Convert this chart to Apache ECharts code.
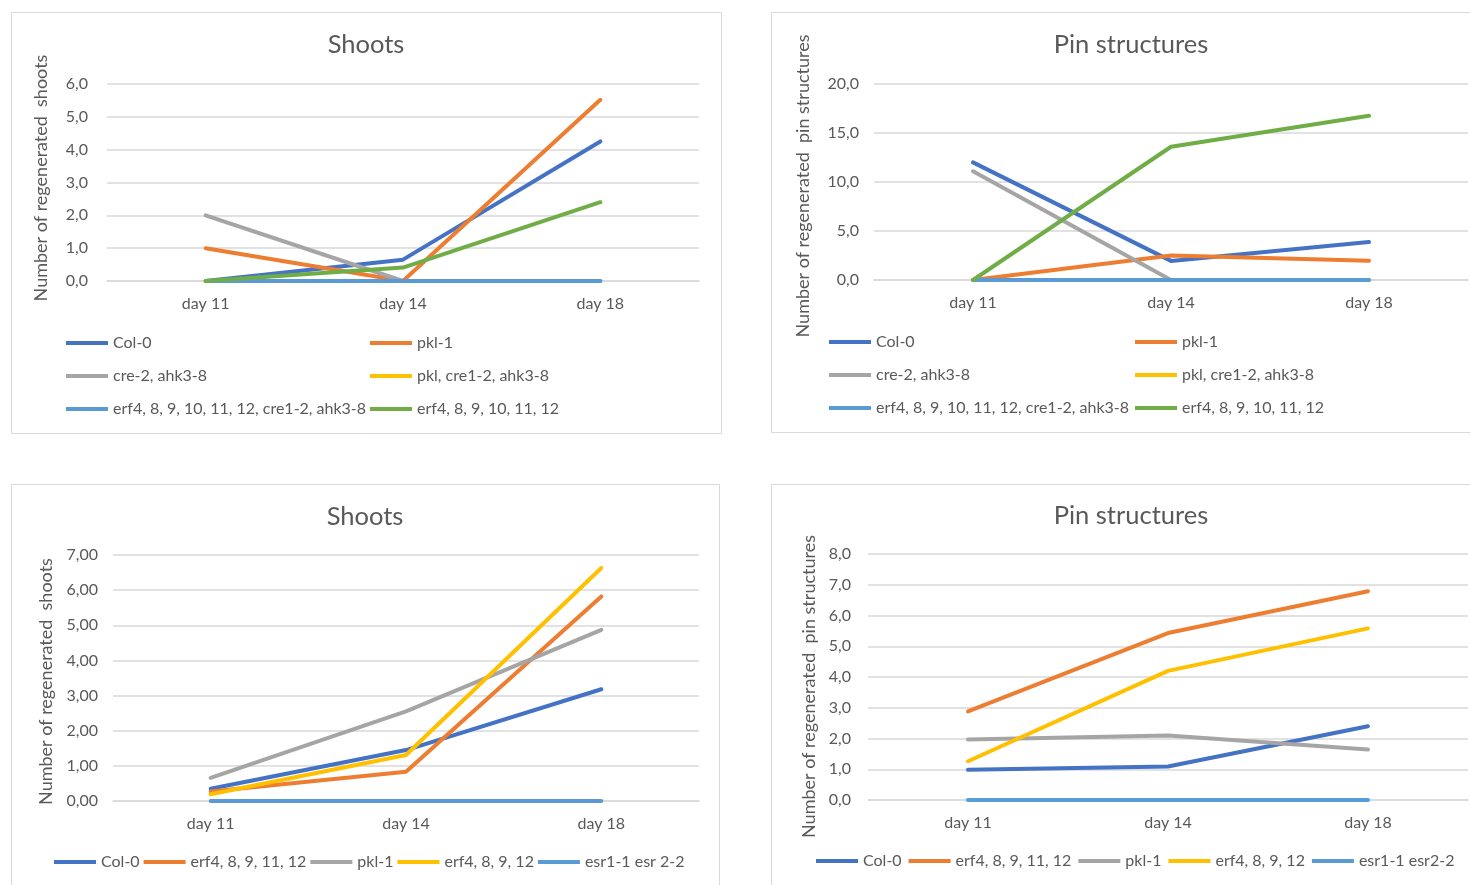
<!DOCTYPE html>
<html><head><meta charset="utf-8">
<script src="https://cdn.jsdelivr.net/npm/echarts@6/dist/echarts.min.js"></script>
<style>
html,body{margin:0;padding:0;background:#fff;width:1470px;height:885px;overflow:hidden;}
.p{position:absolute;}
</style></head>
<body>
<div id="c1" class="p" style="left:0;top:0;width:735px;height:460px"></div>
<div id="c2" class="p" style="left:735px;top:0;width:735px;height:460px"></div>
<div id="c3" class="p" style="left:0;top:460px;width:735px;height:425px"></div>
<div id="c4" class="p" style="left:735px;top:460px;width:735px;height:425px"></div>
<script>
// ---- data ----
const days = ['day 11', 'day 14', 'day 18'];

// top panels
const topNames = ['Col-0', 'pkl-1', 'cre-2, ahk3-8', 'pkl, cre1-2, ahk3-8',
  'erf4, 8, 9, 10, 11, 12, cre1-2, ahk3-8', 'erf4, 8, 9, 10, 11, 12'];
const shootsTop_col0 = [0, 0.65, 4.25];
const shootsTop_pkl1 = [1.0, 0, 5.52];
const shootsTop_cre2 = [2.0, 0, 0];
const shootsTop_pklCre = [0, 0, 0];
const shootsTop_erfCre = [0, 0, 0];
const shootsTop_erf = [0, 0.41, 2.4];

const pinsTop_col0 = [12.0, 1.95, 3.87];
const pinsTop_pkl1 = [0, 2.5, 1.97];
const pinsTop_cre2 = [11.1, 0, 0];
const pinsTop_pklCre = [0, 0, 0];
const pinsTop_erfCre = [0, 0, 0];
const pinsTop_erf = [0, 13.6, 16.75];

// bottom panels
const botNames = ['Col-0', 'erf4, 8, 9, 11, 12', 'pkl-1', 'erf4, 8, 9, 12', 'esr1-1 esr 2-2'];
const botNames2 = ['Col-0', 'erf4, 8, 9, 11, 12', 'pkl-1', 'erf4, 8, 9, 12', 'esr1-1 esr2-2'];
const shootsBot_col0 = [0.35, 1.45, 3.18];
const shootsBot_erf5 = [0.27, 0.83, 5.82];
const shootsBot_pkl1 = [0.66, 2.55, 4.87];
const shootsBot_erf4 = [0.19, 1.31, 6.63];
const shootsBot_esr = [0, 0, 0];

const pinsBot_col0 = [0.98, 1.09, 2.4];
const pinsBot_erf5 = [2.88, 5.43, 6.79];
const pinsBot_pkl1 = [1.97, 2.1, 1.64];
const pinsBot_erf4 = [1.26, 4.2, 5.58];
const pinsBot_esr = [0, 0, 0];

// ---- styles ----
const palTop = ['#4472C4', '#ED7D31', '#A5A5A5', '#FFC000', '#5B9BD5', '#70AD47'];
const palBot = ['#4472C4', '#ED7D31', '#A5A5A5', '#FFC000', '#5B9BD5'];
const FONT = 'Lato';
const TXT = '#595959';
const GRIDC = '#D9D9D9';

function build(id, o) {
  const ox = o.ox, oy = o.oy;
  const chart = echarts.init(document.getElementById(id), null, {renderer: 'canvas'});
  const fmt = v => v.toFixed(o.dec).replace('.', ',');
  const series = o.names.map((n, i) => ({
    name: n, type: 'line', data: o.data[i], symbol: 'none',
    lineStyle: {width: 4, color: o.pal[i], cap: 'round', join: 'round'},
    itemStyle: {color: o.pal[i]}, z: 2 + i, animation: false
  }));
  let legends;
  const lt = {color: TXT, fontFamily: FONT, fontSize: 16, lineHeight: 16};
  if (o.legendCols) {
    legends = o.legendCols.map(c => ({
      orient: 'vertical', left: c.x - ox, top: c.y - oy, padding: 0,
      data: c.items, icon: 'rect', itemWidth: 42, itemHeight: 4, itemGap: 17,
      textStyle: lt
    }));
  } else {
    legends = [{
      orient: 'horizontal', left: o.legendRow.x - ox, top: o.legendRow.y - oy, padding: 0,
      data: o.names, icon: 'rect', itemWidth: 42, itemHeight: 4, itemGap: o.legendRow.gap,
      textStyle: lt
    }];
  }
  chart.setOption({
    animation: false,
    textStyle: {fontFamily: FONT},
    title: {text: o.title, left: o.titleX - ox, top: o.titleY - oy, textAlign: 'center', padding: 0,
      textStyle: {color: TXT, fontFamily: FONT, fontSize: 25.5, fontWeight: 'normal'}},
    graphic: [{type: 'rect', shape: {x: o.box[0] - ox + 0.5, y: o.box[1] - oy + 0.5,
      width: o.box[2] - o.box[0], height: o.box[3] - o.box[1]},
      style: {fill: 'none', stroke: GRIDC, lineWidth: 1}, silent: true}],
    legend: legends,
    grid: {left: o.g[0] - ox, top: o.g[1] - oy, width: o.g[2] - o.g[0], height: o.g[3] - o.g[1], containLabel: false},
    xAxis: {type: 'category', data: days, boundaryGap: true,
      axisLine: {show: true, lineStyle: {color: GRIDC, width: 1.5}}, axisTick: {show: false},
      axisLabel: {color: TXT, fontFamily: FONT, fontSize: 16, margin: 15}},
    yAxis: {type: 'value', min: 0, max: o.max, interval: o.step,
      name: o.yName, nameLocation: 'middle', nameGap: o.nameGap, nameRotate: 90,
      nameTextStyle: {color: TXT, fontFamily: FONT, fontSize: 18, padding: o.namePad},
      axisLine: {show: false}, axisTick: {show: false},
      axisLabel: {color: TXT, fontFamily: FONT, fontSize: 16, margin: o.lblMargin, formatter: fmt},
      splitLine: {lineStyle: {color: GRIDC, width: 1.5}}},
    series: series
  });
}

build('c1', {ox: 0, oy: 0, title: 'Shoots', titleX: 366, titleY: 32,
  box: [11, 12, 721, 433], g: [107, 84, 699, 281], max: 6, step: 1, dec: 1,
  yName: 'Number of regenerated  shoots', nameGap: 57, namePad: [0, 0, 0, 9], lblMargin: 19,
  names: topNames, pal: palTop,
  data: [shootsTop_col0, shootsTop_pkl1, shootsTop_cre2, shootsTop_pklCre, shootsTop_erfCre, shootsTop_erf],
  legendCols: [{x: 66, y: 335, items: [topNames[0], topNames[2], topNames[4]]},
               {x: 370, y: 335, items: [topNames[1], topNames[3], topNames[5]]}]});

build('c2', {ox: 735, oy: 0, title: 'Pin structures', titleX: 1131, titleY: 32,
  box: [771, 12, 1475, 432], g: [874, 84, 1468, 280], max: 20, step: 5, dec: 1,
  yName: 'Number of regenerated  pin structures', nameGap: 62, namePad: [0, 8, 0, 0], lblMargin: 15,
  names: topNames, pal: palTop,
  data: [pinsTop_col0, pinsTop_pkl1, pinsTop_cre2, pinsTop_pklCre, pinsTop_erfCre, pinsTop_erf],
  legendCols: [{x: 829, y: 334, items: [topNames[0], topNames[2], topNames[4]]},
               {x: 1135, y: 334, items: [topNames[1], topNames[3], topNames[5]]}]});

build('c3', {ox: 0, oy: 460, title: 'Shoots', titleX: 365, titleY: 504,
  box: [11, 484, 719, 890], g: [113, 555, 699, 801], max: 7, step: 1, dec: 2,
  yName: 'Number of regenerated  shoots', nameGap: 56, namePad: [0, 7, 0, 0], lblMargin: 15,
  names: botNames, pal: palBot,
  data: [shootsBot_col0, shootsBot_erf5, shootsBot_pkl1, shootsBot_erf4, shootsBot_esr],
  legendRow: {x: 54, y: 854, gap: 4}});

build('c4', {ox: 735, oy: 460, title: 'Pin structures', titleX: 1131, titleY: 503,
  box: [771, 484, 1475, 890], g: [868, 554, 1468, 800], max: 8, step: 1, dec: 1,
  yName: 'Number of regenerated  pin structures', nameGap: 49, namePad: [0, 19, 0, 0], lblMargin: 17,
  names: botNames2, pal: palBot,
  data: [pinsBot_col0, pinsBot_erf5, pinsBot_pkl1, pinsBot_erf4, pinsBot_esr],
  legendRow: {x: 816, y: 853, gap: 7}});
</script>
</body></html>
